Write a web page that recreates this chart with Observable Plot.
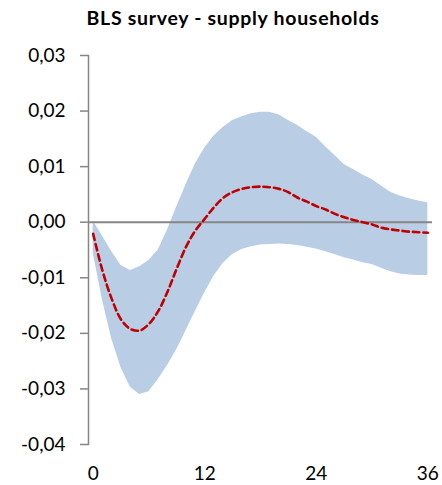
<!DOCTYPE html>
<html>
<head>
<meta charset="utf-8">
<script src="https://cdn.jsdelivr.net/npm/d3@7"></script>
<script src="https://cdn.jsdelivr.net/npm/@observablehq/plot@0.6"></script>
<style>
  body { margin: 0; background: #fff; }
  #chart { width: 442px; }
  .title {
    height: 32px;
    padding-left: 24px;
    font-family: Lato, sans-serif;
    font-weight: bold;
    font-size: 19.5px;
    letter-spacing: 0.7px;
    line-height: 36px;
    text-align: center;
    color: #000;
    white-space: nowrap;
  }
</style>
</head>
<body>
<div id="chart">
  <div class="title">BLS survey - supply households</div>
</div>
<script>
// Impulse response horizon (months)
const months = [0, 1, 2, 3, 4, 5, 6, 7, 8, 9, 10, 11, 12, 13, 14, 15, 16, 17, 18,
  19, 20, 21, 22, 23, 24, 25, 26, 27, 28, 29, 30, 31, 32, 33, 34, 35, 36];

// Median response
const irf = [-0.0021, -0.0087, -0.0138, -0.0175, -0.0192, -0.0195, -0.0183, -0.0160,
  -0.0125, -0.0083, -0.0044, -0.0015, 0.0006, 0.0027, 0.0044, 0.0054, 0.0060, 0.0063,
  0.0064, 0.0063, 0.0060, 0.0054, 0.0044, 0.0037, 0.0029, 0.0023, 0.0015, 0.0009,
  0.0004, 0.0000, -0.0004, -0.0010, -0.0013, -0.0015, -0.0017, -0.0018, -0.0019];

// Credible band, upper and lower bounds
const upper = [0.0002, -0.0025, -0.0053, -0.0078, -0.0087, -0.0080, -0.0069, -0.0050,
  -0.0014, 0.0028, 0.0068, 0.0105, 0.0133, 0.0155, 0.0171, 0.0183, 0.0190, 0.0195,
  0.0198, 0.0198, 0.0193, 0.0183, 0.0174, 0.0163, 0.0153, 0.0136, 0.0120, 0.0104,
  0.0095, 0.0085, 0.0077, 0.0065, 0.0054, 0.0047, 0.0042, 0.0038, 0.0035];

const lower = [-0.0055, -0.0140, -0.0210, -0.0262, -0.0297, -0.0310, -0.0305, -0.0283,
  -0.0258, -0.0229, -0.0195, -0.0160, -0.0127, -0.0097, -0.0074, -0.0058, -0.0049,
  -0.0044, -0.0041, -0.0040, -0.0039, -0.0040, -0.0042, -0.0045, -0.0048, -0.0053,
  -0.0058, -0.0064, -0.0068, -0.0073, -0.0076, -0.0083, -0.0089, -0.0093, -0.0095,
  -0.0096, -0.0096];

// Axis ticks
const xTicks = [0, 12, 24, 36];
const yTicks = [0.03, 0.02, 0.01, 0, -0.01, -0.02, -0.03, -0.04];

const rows = months.map((m, i) => ({month: m, irf: irf[i], upper: upper[i], lower: lower[i]}));
const commaDecimal = d => d.toFixed(2).replace(".", ",");

const chart = Plot.plot({
  width: 442,
  height: 453,
  marginTop: 23,
  marginBottom: 41,
  marginLeft: 88,
  marginRight: 10,
  style: {fontFamily: "Lato, sans-serif", fontSize: "19px", color: "#000", background: "#fff", overflow: "visible"},
  x: {domain: [-0.5, 36.5]},
  y: {domain: [-0.04, 0.03]},
  marks: [
    Plot.areaY(rows, {x: "month", y1: "lower", y2: "upper", fill: "#b9cde5"}),
    Plot.ruleY([0], {stroke: "#868686", strokeWidth: 2}),
    Plot.line(rows, {x: "month", y: "irf", stroke: "#c00000", strokeWidth: 2.6,
      strokeDasharray: "6.5,4", curve: "catmull-rom"}),
    Plot.frame({anchor: "left", stroke: "#868686", strokeWidth: 1.5}),
    Plot.axisY({ticks: yTicks, tickSize: 8, tickPadding: 15, tickFormat: commaDecimal,
      stroke: "#868686", strokeWidth: 1.5, fill: "#000", label: null}),
    Plot.axisX({ticks: xTicks, tickSize: 0, tickPadding: 22, fill: "#000", label: null})
  ]
});

document.getElementById("chart").appendChild(chart);
</script>
</body>
</html>
